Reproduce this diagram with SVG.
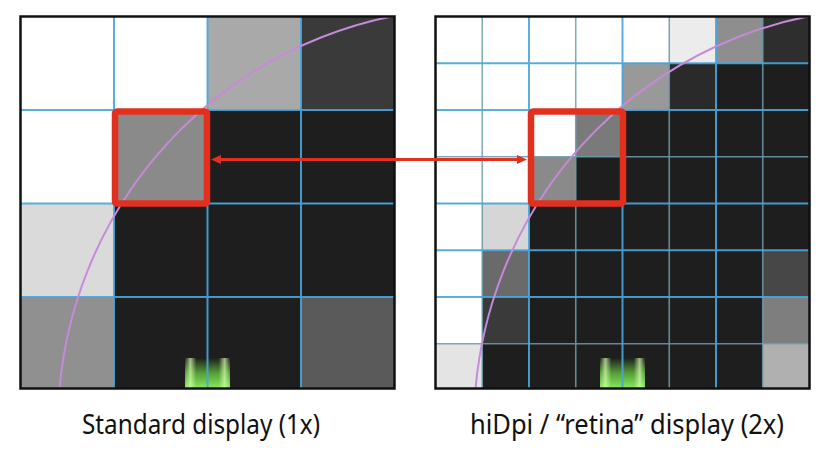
<svg xmlns="http://www.w3.org/2000/svg" width="828" height="466" viewBox="0 0 828 466">
<style>
.w{fill:#ffffff}.k{fill:#1e1e1e}
.g1{stroke:#48a6da;stroke-width:2;fill:none;opacity:0.9}
.g2{stroke:#6f9db4;stroke-width:1.6;fill:none;opacity:0.85}
.frame{fill:none;stroke:#111;stroke-width:2.5}
.arc{fill:none;stroke:#c58ad8;stroke-width:2}
.box{fill:none;stroke:#e2301f;stroke-width:6.5;stroke-linejoin:round}
.lbl{font-family:"Noto Sans","Open Sans",sans-serif;font-size:28px;fill:#111}
.arrow{stroke:#e2301f;stroke-width:3;fill:none}
</style>
<defs>
<clipPath id="cl"><rect x="20.5" y="16.5" width="374" height="372"/></clipPath>
<clipPath id="cr"><rect x="435.5" y="16.5" width="374" height="372"/></clipPath>
<linearGradient id="glow" x1="0" y1="0" x2="0" y2="1">
<stop offset="0" stop-color="#6fdc40" stop-opacity="0"/>
<stop offset="0.5" stop-color="#70d844" stop-opacity="0.7"/>
<stop offset="1" stop-color="#8cf060" stop-opacity="1"/>
</linearGradient>
<linearGradient id="glowH" x1="0" y1="0" x2="1" y2="0">
<stop offset="0" stop-color="#d8ffb0" stop-opacity="0"/>
<stop offset="0.12" stop-color="#d8ffb0" stop-opacity="0.7"/>
<stop offset="0.25" stop-color="#d8ffb0" stop-opacity="0"/>
<stop offset="0.75" stop-color="#d8ffb0" stop-opacity="0"/>
<stop offset="0.88" stop-color="#d8ffb0" stop-opacity="0.7"/>
<stop offset="1" stop-color="#d8ffb0" stop-opacity="0"/>
</linearGradient>
<marker id="ah" markerUnits="userSpaceOnUse" markerWidth="10" markerHeight="9" refX="6" refY="4.5" orient="auto-start-reverse">
<path d="M0,0 L10,4.5 L0,9 z" fill="#e2301f"/>
</marker>
</defs>
<rect width="828" height="466" fill="#ffffff"/>

<g id="panel-standard">
<g clip-path="url(#cl)">
<!-- row 0 -->
<rect x="20.5" y="16.5" width="93.5" height="93.5" fill="#ffffff"/>
<rect x="114" y="16.5" width="93.5" height="93.5" fill="#ffffff"/>
<rect x="207.5" y="16.5" width="93.5" height="93.5" fill="#a9a9a9"/>
<rect x="301" y="16.5" width="94" height="93.5" fill="#3a3a3a"/>
<!-- row 1 -->
<rect x="20.5" y="110" width="93.5" height="93.5" fill="#ffffff"/>
<rect x="114" y="110" width="93.5" height="93.5" fill="#8a8a8a"/>
<rect x="207.5" y="110" width="187.5" height="93.5" fill="#1e1e1e"/>
<!-- row 2 -->
<rect x="20.5" y="203.5" width="93.5" height="93.5" fill="#dadada"/>
<rect x="114" y="203.5" width="281" height="93.5" fill="#1e1e1e"/>
<!-- row 3 -->
<rect x="20.5" y="297" width="93.5" height="92" fill="#909090"/>
<rect x="114" y="297" width="187" height="92" fill="#1e1e1e"/>
<rect x="301" y="297" width="94" height="92" fill="#5a5a5a"/>
<rect x="185" y="358" width="45" height="31" fill="url(#glow)"/>
<rect x="185" y="358" width="45" height="31" fill="url(#glowH)"/>
<path class="g1" d="M114,16.5V388.5M207.5,16.5V388.5M301,16.5V388.5M20.5,110H394.5M20.5,203.5H394.5M20.5,297H394.5"/>
<circle class="arc" cx="475" cy="425" r="417"/>
</g>
<rect class="frame" x="20.5" y="16.5" width="374" height="372"/>
<rect class="box" x="115" y="111.5" width="92" height="92" rx="2"/>
</g>

<g id="panel-retina">
<g clip-path="url(#cr)">
<rect x="435.5" y="16.5" width="374" height="372" fill="#1e1e1e"/>
<!-- row 0 -->
<rect x="435.5" y="16.5" width="233.75" height="46.75" fill="#ffffff"/>
<rect x="669.25" y="16.5" width="46.75" height="46.75" fill="#ececec"/>
<rect x="716" y="16.5" width="46.75" height="46.75" fill="#8e8e8e"/>
<rect x="762.75" y="16.5" width="47" height="46.75" fill="#2e2e2e"/>
<!-- row 1 -->
<rect x="435.5" y="63.25" width="187" height="46.75" fill="#ffffff"/>
<rect x="622.5" y="63.25" width="46.75" height="46.75" fill="#999999"/>
<rect x="669.25" y="63.25" width="46.75" height="46.75" fill="#2a2a2a"/>
<!-- row 2 -->
<rect x="435.5" y="110" width="140.25" height="46.75" fill="#ffffff"/>
<rect x="575.75" y="110" width="46.75" height="46.75" fill="#7a7a7a"/>
<!-- row 3 -->
<rect x="435.5" y="156.75" width="93.5" height="46.75" fill="#ffffff"/>
<rect x="529" y="156.75" width="46.75" height="46.75" fill="#8a8a8a"/>
<!-- row 4 -->
<rect x="435.5" y="203.5" width="46.75" height="46.75" fill="#ffffff"/>
<rect x="482.25" y="203.5" width="46.75" height="46.75" fill="#d6d6d6"/>
<!-- row 5 -->
<rect x="435.5" y="250.25" width="46.75" height="46.75" fill="#ffffff"/>
<rect x="482.25" y="250.25" width="46.75" height="46.75" fill="#6a6a6a"/>
<rect x="762.75" y="250.25" width="47" height="46.75" fill="#474747"/>
<!-- row 6 -->
<rect x="435.5" y="297" width="46.75" height="46.75" fill="#ffffff"/>
<rect x="482.25" y="297" width="46.75" height="46.75" fill="#3a3a3a"/>
<rect x="762.75" y="297" width="47" height="46.75" fill="#7e7e7e"/>
<!-- row 7 -->
<rect x="435.5" y="343.75" width="46.75" height="45" fill="#e4e4e4"/>
<rect x="762.75" y="343.75" width="47" height="45" fill="#b0b0b0"/>
<rect x="600" y="358" width="45" height="31" fill="url(#glow)"/>
<rect x="600" y="358" width="45" height="31" fill="url(#glowH)"/>
<path class="g2" d="M482.25,16.5V388.5M575.75,16.5V388.5M669.25,16.5V388.5M762.75,16.5V388.5M435.5,156.75H809.5M435.5,343.75H809.5"/>
<path class="g1" d="M529,16.5V388.5M622.5,16.5V388.5M716,16.5V388.5M435.5,63.25H809.5M435.5,110H809.5M435.5,203.5H809.5M435.5,250.25H809.5M435.5,297H809.5"/>
<circle class="arc" cx="891" cy="425" r="417"/>
</g>
<rect class="frame" x="435.5" y="16.5" width="374" height="372"/>
<rect class="box" x="531" y="111.5" width="92" height="92" rx="2"/>
</g>

<g id="connectors">
<line class="arrow" x1="215" y1="159.5" x2="523" y2="159.5" marker-start="url(#ah)" marker-end="url(#ah)"/>
</g>

<g id="labels">
<text class="lbl" x="82" y="434" textLength="238" lengthAdjust="spacingAndGlyphs">Standard display (1x)</text>
<text class="lbl" x="470" y="434" textLength="314" lengthAdjust="spacingAndGlyphs">hiDpi / “retina” display (2x)</text>
</g>
</svg>
